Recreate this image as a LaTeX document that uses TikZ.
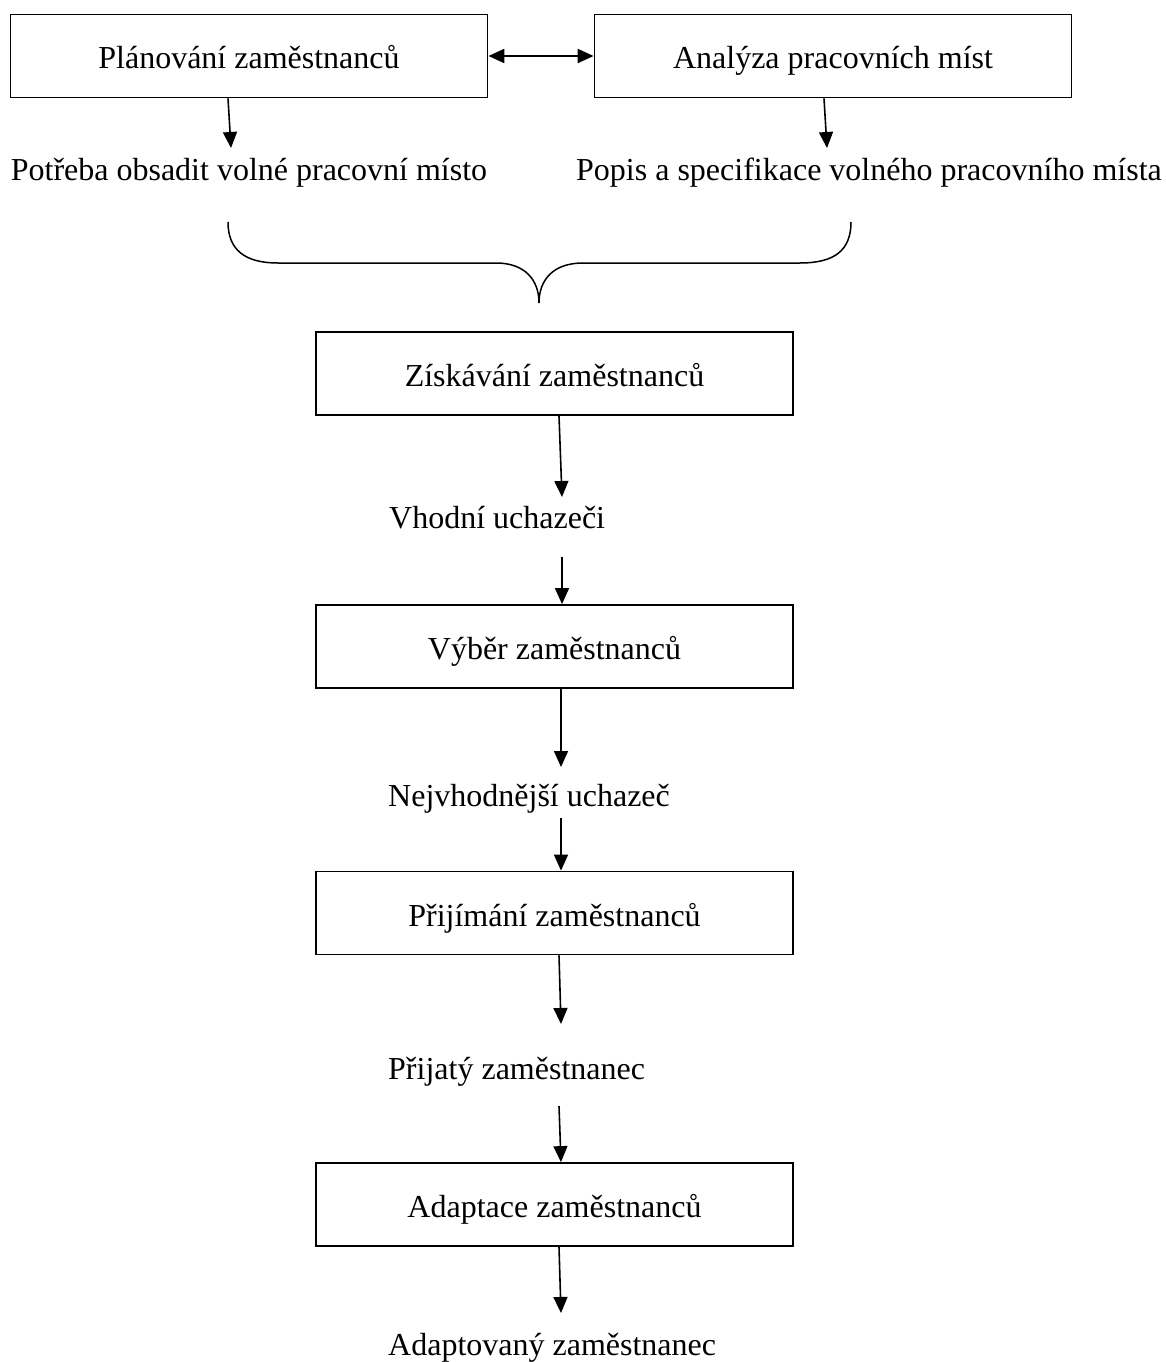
\documentclass[tikz,border=0pt]{standalone}
\usepackage{fontspec}
\setmainfont{Liberation Serif}
\usetikzlibrary{
    arrows.meta
}

\begin{document}
\begin{tikzpicture}[
    x=1pt, y=-1pt,
    >={Triangle[length=16pt,width=14pt]},
    every node/.style={font=\fontsize{32}{38}\selectfont},
    blok/.style={
        draw,
        line width=1.8pt,
        minimum width=477pt,
        minimum height=83pt,
        inner sep=0pt,
        text height=26pt,
        text depth=0pt,
        align=center
    },
    popisek/.style={
        inner sep=0pt,
        anchor=base west
    },
    sipka/.style={
        ->,
        line width=1.6pt
    }
]

\useasboundingbox (0,0) rectangle (1166,1362);

\node[blok] (planovani) at (249,56) {Plánování zaměstnanců};
\node[blok] (analyza) at (833,56) {Analýza pracovních míst};
\node[popisek, anchor=base] (potreba) at (249,180) {Potřeba obsadit volné pracovní místo};
\node[popisek, anchor=base] (specifikace) at (869,180) {Popis a specifikace volného pracovního místa};

\node[blok] (ziskavani) at (554.5,373.5) {Získávání zaměstnanců};
\node[popisek] (uchazeci) at (389,528) {Vhodní uchazeči};
\node[blok] (vyber) at (554.5,646.5) {Výběr zaměstnanců};
\node[popisek] (nejvhodnejsi) at (388,806) {Nejvhodnější uchazeč};
\node[blok] (prijimani) at (554.5,913) {Přijímání zaměstnanců};
\node[popisek] (prijaty) at (388,1079) {Přijatý zaměstnanec};
\node[blok] (adaptace) at (554.5,1204.5) {Adaptace zaměstnanců};
\node[popisek] (adaptovany) at (388,1355) {Adaptovaný zaměstnanec};

\coordinate (k-potreba) at (231,148);
\coordinate (k-specifikace) at (827,148);
\coordinate (k-uchazeci-in) at (562,497);
\coordinate (k-uchazeci-out) at (562,557);
\coordinate (k-nejv-in) at (561,767);
\coordinate (k-nejv-out) at (561,818);
\coordinate (k-prijaty-in) at (561,1024);
\coordinate (k-prijaty-out) at (559,1106);
\coordinate (k-adaptovany) at (561,1313);

\draw[sipka, <->, line width=2.2pt] (planovani) -- (analyza);
\draw[sipka] ([xshift=-21pt]planovani.south) -- (k-potreba);
\draw[sipka] ([xshift=-9pt]analyza.south) -- (k-specifikace);

\draw[line width=1.5pt] (228,222) .. controls (228,250) and (245,263) .. (278,263) -- (496,263)
    .. controls (525,263) and (539,280) .. (539,303)
    .. controls (539,280) and (553,263) .. (583,263) -- (800,263)
    .. controls (835,263) and (851,250) .. (851,222);

\draw[sipka] ([xshift=4.5pt]ziskavani.south) -- (k-uchazeci-in);
\draw[sipka] (k-uchazeci-out) -- ([xshift=7.5pt]vyber.north);
\draw[sipka] ([xshift=6.5pt]vyber.south) -- (k-nejv-in);
\draw[sipka] (k-nejv-out) -- ([xshift=6.5pt]prijimani.north);
\draw[sipka] ([xshift=4.5pt]prijimani.south) -- (k-prijaty-in);
\draw[sipka] (k-prijaty-out) -- ([xshift=6.5pt]adaptace.north);
\draw[sipka] ([xshift=4.5pt]adaptace.south) -- (k-adaptovany);

\end{tikzpicture}
\end{document}
